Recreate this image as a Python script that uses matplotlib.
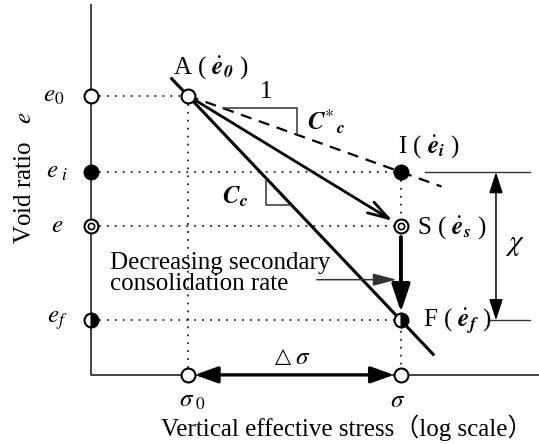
import numpy as np
import matplotlib
matplotlib.use('Agg')
from matplotlib import pyplot as plt

plt.rcParams['font.family'] = ['Liberation Serif', 'Noto Sans CJK JP', 'DejaVu Sans']
plt.rcParams['mathtext.fontset'] = 'stix'

# titik-titik skema (tegangan, angka pori)
sigma0 = 1.0
sigma1 = 10.0
e0 = 1.200
ei = 1.064
es = 0.968
ef = 0.800
cc = 0.40                      # kemiringan garis Cc per dekade
cc_star = (e0 - ei) / np.log10(sigma1 / sigma0)

titik = ['A', 'I', 'S', 'F']
sig_titik = [sigma0, sigma1, sigma1, sigma1]
e_titik = [e0, ei, es, ef]

# batas sumbu
sig_sumbu = 0.351
e_sumbu = 0.703
e_atas = 1.361

def garis(s, e_awal, k):
    return e_awal - k * np.log10(s / sigma0)

fig = plt.figure(figsize=(5.39, 4.44), dpi=100)
ax = fig.add_axes([0, 0, 1, 1])
ax.set_xscale('log')
ax.set_xlim(0.1318, 44.4)
ax.set_ylim(0.580, 1.370)
ax.axis('off')

# sumbu
ax.plot([sig_sumbu, sig_sumbu, 44.4], [e_atas, e_sumbu, e_sumbu], color='#333333', lw=1.3)

# garis bantu putus-putus
dot = dict(color='black', lw=1.1, ls=(0, (1.2, 4)))
for e_ in [e0, ei, es, ef]:
    s_ = sigma0 if e_ == e0 else sigma1
    ax.plot([sig_sumbu, s_], [e_, e_], **dot)
ax.plot([sigma0, sigma0], [e0, e_sumbu], **dot)
ax.plot([sigma1, sigma1], [ei, e_sumbu], **dot)

# garis Cc
s_cc = np.array([10 ** -0.075, 10 ** 1.151])
ax.plot(s_cc, garis(s_cc, e0, cc), color='black', lw=2.2)

# garis C*c (putus-putus)
s_cs = np.array([sigma0, 10 ** 1.19])
ax.plot(s_cs, garis(s_cs, e0, cc_star), color='black', lw=1.6, ls=(0, (5, 3.5)))

# segitiga kemiringan C*c
a, b = 10 ** 0.167, 10 ** 0.511
ax.plot([a, b, b], [garis(a, e0, cc_star), garis(a, e0, cc_star), garis(b, e0, cc_star)],
        color='#333333', lw=1.1)
# segitiga kemiringan Cc
a, b = 10 ** 0.367, 10 ** 0.4876
ax.plot([a, a, b], [garis(a, e0, cc), garis(b, e0, cc), garis(b, e0, cc)],
        color='#333333', lw=1.1)

# panah A -> S
ax.annotate('', xy=(sigma1, es), xytext=(sigma0, e0),
            arrowprops=dict(arrowstyle='->,head_length=1.5,head_width=0.45', lw=2.0,
                            color='black', shrinkA=5, shrinkB=7))
# panah S -> F
ax.annotate('', xy=(sigma1, ef), xytext=(sigma1, es),
            arrowprops=dict(arrowstyle='-|>,head_length=1.65,head_width=0.55', lw=2.8,
                            color='black', shrinkA=8, shrinkB=6))
# panah penunjuk
ax.annotate('', xy=(9.55, 0.8724), xytext=(4.03, 0.8724),
            arrowprops=dict(arrowstyle='-|>,head_length=1.45,head_width=0.38', lw=1.1,
                            color='#333333', shrinkA=0, shrinkB=0))
# panah delta sigma
ax.annotate('', xy=(sigma1, e_sumbu), xytext=(sigma0, e_sumbu),
            arrowprops=dict(arrowstyle='<|-|>,head_length=1.4,head_width=0.5', lw=2.4,
                            color='black', shrinkA=5, shrinkB=5))

# dimensi chi
ax.plot([12.9, 40.3], [ei, ei], color='#333333', lw=1.0)
ax.plot([25.6, 40.3], [ef, ef], color='#333333', lw=1.0)
ax.annotate('', xy=(27.9, ef), xytext=(27.9, ei),
            arrowprops=dict(arrowstyle='<|-|>,head_length=1.3,head_width=0.42', lw=1.1,
                            color='black', shrinkA=0, shrinkB=0))

# penanda
mk = dict(ms=10, mew=1.5, mec='black', zorder=5, ls='none')
def lingkaran(s, e_, jenis):
    if jenis == 'open':
        ax.plot(s, e_, 'o', mfc='white', **mk)
    elif jenis == 'full':
        ax.plot(s, e_, 'o', mfc='black', **mk)
    elif jenis == 'double':
        ax.plot(s, e_, 'o', mfc='white', **mk)
        ax.plot(s, e_, 'o', mfc='white', ms=4.5, mew=1.2, mec='black', zorder=6)
    elif jenis == 'half':
        ax.plot(s, e_, 'o', mfc='black', mfcalt='white', fillstyle='right', **mk)

jenis_titik = ['open', 'full', 'double', 'half']
for s_, e_, j in zip(sig_titik, e_titik, jenis_titik):
    lingkaran(s_, e_, j)
    lingkaran(sig_sumbu, e_, j)
lingkaran(sigma0, e_sumbu, 'open')
lingkaran(sigma1, e_sumbu, 'open')

# teks
fs = 18
ax.text(1.286, 1.249, r'A ( $\dot{\mathbfit{e}}_{\mathbfit{0}}$ )', fontsize=fs, ha='center', va='center')
ax.text(9.68, 1.109, r'I ( $\dot{\mathbfit{e}}_{\mathbfit{i}}$ )', fontsize=fs, ha='left', va='center')
ax.text(11.85, 0.965, r'S ( $\dot{\mathbfit{e}}_{\mathbfit{s}}$ )', fontsize=fs, ha='left', va='center')
ax.text(12.68, 0.798, r'F ( $\dot{\mathbfit{e}}_{\mathbfit{f}}$ )', fontsize=fs, ha='left', va='center')
ax.text(2.33, 1.2066, '1', fontsize=fs, ha='center', va='center')
ax.text(3.61, 1.153, r'$\mathbfit{C}^{*}{}_{\,\mathbfit{c}}$', fontsize=18, ha='left', va='center')
ax.text(1.667, 1.0205, r'$\mathbfit{C}_{\mathbfit{c}}$', fontsize=18, ha='center', va='center')
ax.text(0.433, 0.884, 'Decreasing secondary\nconsolidation rate', fontsize=fs,
        ha='left', va='center', linespacing=0.95)
ax.text(34.2, 0.9346, r'$\chi$', fontsize=21, ha='center', va='center')
ax.text(2.80, 0.737, '△', fontsize=15, ha='center', va='center', family='DejaVu Sans')
ax.text(3.45, 0.733, r'$\sigma$', fontsize=fs, ha='center', va='center')
ax.text(1.05, 0.657, r'$\sigma_{\ \mathit{0}}$', fontsize=fs, ha='center', va='center')
ax.text(9.68, 0.657, r'$\sigma$', fontsize=fs, ha='center', va='center')
ax.text(0.236, e0, r'$e_{\mathit{0}}$', fontsize=fs, ha='center', va='center')
ax.text(0.244, ei, r'$e_{\ i}$', fontsize=fs, ha='center', va='center')
ax.text(0.244, es, r'$e$', fontsize=fs, ha='center', va='center')
ax.text(0.244, ef, r'$e_{f}$', fontsize=fs, ha='center', va='center')
ax.text(0.172, 1.054, r'Void ratio   $e$', fontsize=fs, ha='center', va='center', rotation=90)
ax.text(5.6, 0.608, 'Vertical effective stress（log scale）', fontsize=fs, ha='center', va='center')

fig.savefig('out.png', dpi=100)
